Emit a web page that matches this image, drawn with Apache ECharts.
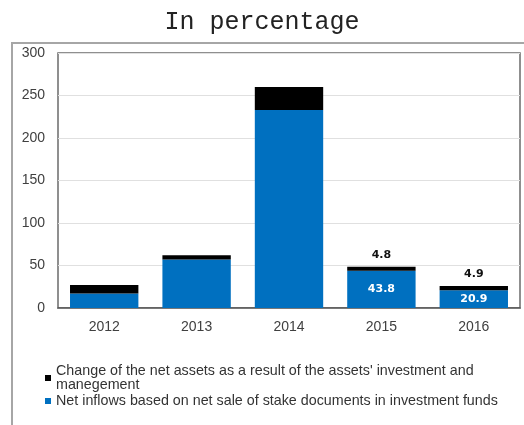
<!DOCTYPE html>
<html>
<head>
<meta charset="utf-8">
<script src="https://cdn.jsdelivr.net/npm/echarts@6/dist/echarts.min.js"></script>
<style>
  html, body { margin: 0; padding: 0; background: #fff; }
  #chart { width: 524px; height: 425px; }
</style>
</head>
<body>
<div id="chart"></div>
<script>
// Years on the category axis
const years = ['2012', '2013', '2014', '2015', '2016'];
// Net inflows from net sale of stake documents (bottom, blue)
const netInflows = [17, 57, 233, 43.8, 20.9];
// Change of net assets from investment and management (top, black)
const assetChange = [10, 5, 27, 4.8, 4.9];
// Years whose segments carry value labels
const labelledYears = ['2015', '2016'];
// Value axis ticks
const yTicks = [0, 50, 100, 150, 200, 250, 300];

const nameChange = "Change of the net assets as a result of the assets' investment and\nmanegement";
const nameInflows = 'Net inflows based on net sale of stake documents in investment funds';

const labelFont = 'Liberation Sans';

const chart = echarts.init(document.getElementById('chart'));

const inflowData = netInflows.map((v, i) => ({
  value: v,
  label: { show: labelledYears.includes(years[i]) }
}));
const changeData = assetChange.map((v, i) => ({
  value: v,
  label: { show: labelledYears.includes(years[i]) }
}));

const legendText = {
  fontFamily: labelFont,
  fontSize: 14.3,
  lineHeight: 14,
  color: '#333'
};

chart.setOption({
  animation: false,
  backgroundColor: '#fff',
  title: {
    text: 'In percentage',
    left: 'center',
    top: 5,
    textStyle: {
      fontFamily: 'Liberation Mono',
      fontWeight: 'normal',
      fontSize: 25,
      color: '#222'
    }
  },
  graphic: [{
    type: 'rect',
    shape: { x: 12, y: 43, width: 530, height: 420 },
    style: { fill: null, stroke: '#a6a6a6', lineWidth: 2 },
    silent: true,
    z: -1
  }],
  grid: {
    left: 58, right: 4, top: 53, bottom: 117,
    show: true,
    borderColor: '#6b6b6b',
    borderWidth: 1.5,
    backgroundColor: 'transparent'
  },
  legend: [{
    data: [nameChange],
    left: 45,
    top: 357,
    padding: 0,
    itemWidth: 6,
    itemHeight: 6,
    icon: 'rect',
    textStyle: Object.assign({ padding: [14, 0, 0, 0] }, legendText)
  }, {
    data: [nameInflows],
    left: 45,
    top: 394,
    padding: 0,
    itemWidth: 6,
    itemHeight: 6,
    icon: 'rect',
    textStyle: legendText
  }],
  xAxis: {
    type: 'category',
    data: years,
    axisLine: { lineStyle: { color: '#555', width: 1.5 } },
    axisTick: { show: false },
    axisLabel: {
      fontFamily: labelFont,
      fontSize: 14,
      color: '#404040',
      margin: 12
    }
  },
  yAxis: {
    type: 'value',
    min: yTicks[0],
    max: yTicks[yTicks.length - 1],
    interval: yTicks[1] - yTicks[0],
    axisLine: { show: false },
    axisTick: { show: false },
    splitLine: { lineStyle: { color: '#e0e0e0', width: 1 } },
    axisLabel: {
      fontFamily: labelFont,
      fontSize: 14,
      color: '#404040',
      margin: 13
    }
  },
  series: [{
    name: nameInflows,
    type: 'bar',
    stack: 'total',
    barWidth: '74%',
    itemStyle: { color: '#0070c0' },
    label: {
      position: 'inside',
      color: '#fff',
      fontFamily: 'DejaVu Sans',
      fontWeight: 'bold',
      fontSize: 11
    },
    data: inflowData
  }, {
    name: nameChange,
    type: 'bar',
    stack: 'total',
    barWidth: '74%',
    itemStyle: { color: '#000' },
    label: {
      position: 'top',
      distance: 6,
      color: '#111',
      fontFamily: 'DejaVu Sans',
      fontWeight: 'bold',
      fontSize: 11
    },
    data: changeData
  }]
});
</script>
</body>
</html>
